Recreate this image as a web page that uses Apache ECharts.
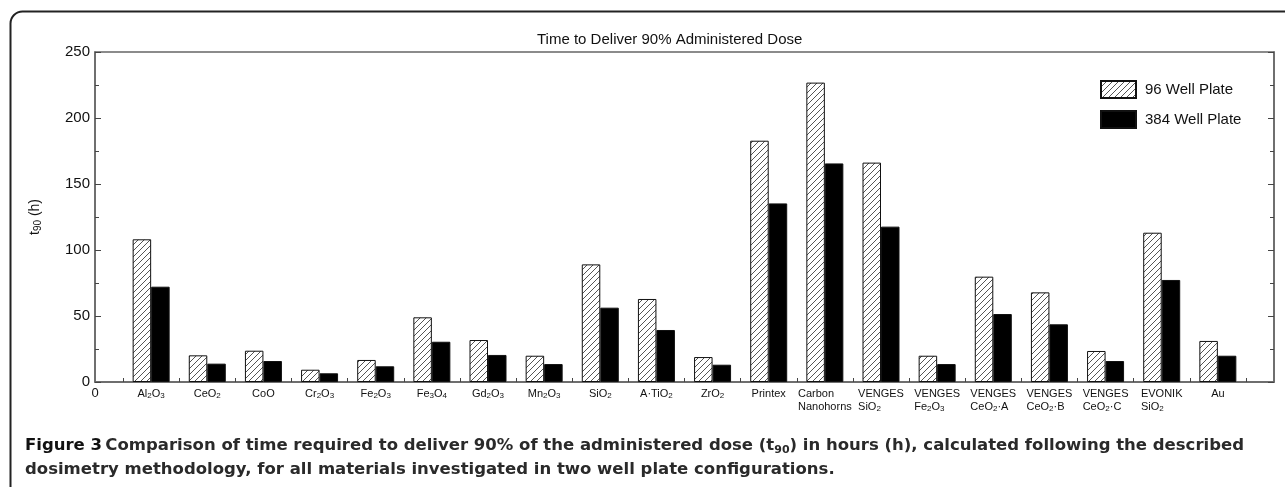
<!DOCTYPE html>
<html><head><meta charset="utf-8">
<script src="https://cdn.jsdelivr.net/npm/echarts@6/dist/echarts.min.js"></script>
<style>html,body{margin:0;padding:0;background:#fff}#c{width:1285px;height:487px}</style>
</head><body><div id="c"></div>
<script>
const categories = ['Al2O3','CeO2','CoO','Cr2O3','Fe2O3','Fe3O4','Gd2O3','Mn2O3','SiO2','A·TiO2','ZrO2','Printex','Carbon Nanohorns','VENGES SiO2','VENGES Fe2O3','VENGES CeO2·A','VENGES CeO2·B','VENGES CeO2·C','EVONIK SiO2','Au'];
const tickLabels = [
  '{n|Al}{s|2}{n|O}{s|3}', '{n|CeO}{s|2}', '{n|CoO}', '{n|Cr}{s|2}{n|O}{s|3}', '{n|Fe}{s|2}{n|O}{s|3}',
  '{n|Fe}{s|3}{n|O}{s|4}', '{n|Gd}{s|2}{n|O}{s|3}', '{n|Mn}{s|2}{n|O}{s|3}', '{n|SiO}{s|2}', '{n|A·TiO}{s|2}',
  '{n|ZrO}{s|2}', '{n|Printex}', '{n|Carbon}\n{n|Nanohorns}', '{n|VENGES}\n{n|SiO}{s|2}', '{n|VENGES}\n{n|Fe}{s|2}{n|O}{s|3}',
  '{n|VENGES}\n{n|CeO}{s|2}{n|·A}', '{n|VENGES}\n{n|CeO}{s|2}{n|·B}', '{n|VENGES}\n{n|CeO}{s|2}{n|·C}', '{n|EVONIK}\n{n|SiO}{s|2}', '{n|Au}'
];
const plate96  = [108.1, 20.2, 23.7, 9.3, 16.7, 49.0, 31.8, 19.9, 89.1, 62.9, 18.9, 182.8, 226.8, 166.2, 19.9, 79.8, 67.9, 23.5, 113.1, 31.1];
const plate384 = [72.2, 13.9, 15.9, 6.6, 11.9, 30.5, 20.5, 13.6, 56.3, 39.4, 13.1, 135.3, 165.6, 117.7, 13.6, 51.5, 43.7, 15.9, 77.3, 19.9];
const seriesNames = ['96 Well Plate', '384 Well Plate'];
const yTicks = [0, 50, 100, 150, 200, 250];

const FF = 'Liberation Sans, Arial, sans-serif';
const CF = 'DejaVu Sans';
const hc = document.createElement('canvas'); hc.width = 6; hc.height = 6;
const g = hc.getContext('2d'); g.strokeStyle = '#555'; g.lineWidth = 1;
g.beginPath(); g.moveTo(0, 6); g.lineTo(6, 0); g.moveTo(-1, 1); g.lineTo(1, -1); g.moveTo(5, 7); g.lineTo(7, 5); g.stroke();

const chart = echarts.init(document.getElementById('c'), null, {renderer: 'canvas'});
const richX = {
  n: {fontSize: 11, lineHeight: 13, align: 'left', color: '#111', fontFamily: FF},
  s: {fontSize: 8, lineHeight: 5, verticalAlign: 'bottom', align: 'left', color: '#111', fontFamily: FF},
  z: {fontSize: 13, lineHeight: 13, color: '#111', fontFamily: FF}
};
const yAxisBase = {
  type: 'value', min: yTicks[0], max: yTicks[yTicks.length - 1], interval: yTicks[1] - yTicks[0],
  axisLine: {show: true, lineStyle: {color: '#666', width: 1.5}},
  axisTick: {show: true, inside: true, length: 6, lineStyle: {color: '#444'}},
  minorTick: {show: true, splitNumber: 2, length: 4, lineStyle: {color: '#444'}},
  splitLine: {show: false}
};
chart.setOption({
  animation: false,
  backgroundColor: '#fff',
  title: {text: 'Time to Deliver 90% Administered Dose', left: 532, top: 27,
    textStyle: {fontSize: 15, fontWeight: 'normal', color: '#111', fontFamily: FF}},
  legend: {orient: 'vertical', left: 1100, top: 80, itemWidth: 35, itemHeight: 17, itemGap: 11, padding: 0,
    icon: 'rect',
    textStyle: {fontSize: 15, color: '#111', fontFamily: FF, padding: [0, 0, 0, 4]}, data: seriesNames},
  grid: {left: 95, right: 11, top: 52, bottom: 105, show: true, borderColor: '#666', borderWidth: 1.5},
  xAxis: {type: 'value', min: 0, max: categories.length + 1, interval: 1,
    axisLine: {show: true, lineStyle: {color: '#666', width: 1.5}},
    axisTick: {show: false, inside: true, length: 4},
    minorTick: {show: true, splitNumber: 2, length: 4, lineStyle: {color: '#444'}},
    splitLine: {show: false},
    axisLabel: {margin: 5, rich: richX, formatter: function (v) {
      if (v === 0) return '{z|0}';
      return tickLabels[Math.round(v) - 1] || '';
    }}},
  yAxis: [
    Object.assign({}, yAxisBase, {position: 'left',
      axisLabel: {fontSize: 15, color: '#111', margin: 5, fontFamily: FF},
      name: '{t|t}{s|90}{t| (h)}', nameLocation: 'middle', nameGap: 52,
      nameTextStyle: {rich: {t: {fontSize: 14, color: '#111', fontFamily: FF, lineHeight: 16},
        s: {fontSize: 10, color: '#111', fontFamily: FF, lineHeight: 6, verticalAlign: 'bottom'}}}}),
    Object.assign({}, yAxisBase, {position: 'right', axisLabel: {show: false}})
  ],
  series: [
    {name: seriesNames[0], type: 'bar', barWidth: 18.5, barGap: '0%',
      itemStyle: {color: {image: hc, repeat: 'repeat'}, borderColor: '#111', borderWidth: 1},
      data: plate96.map((v, i) => [i + 1, v])},
    {name: seriesNames[1], type: 'bar', barWidth: 18.5, barGap: '0%',
      itemStyle: {color: '#000', borderColor: '#111', borderWidth: 1},
      data: plate384.map((v, i) => [i + 1, v])}
  ],
  graphic: [
    {type: 'rect', silent: true, z: -10, shape: {x: 10.5, y: 11.5, width: 1300, height: 600, r: 12},
      style: {fill: 'none', stroke: '#222', lineWidth: 2}},
    {type: 'text', silent: true, x: 25, y: 436, style: {
      text: '{b|Figure 3} {m|Comparison of time required to deliver 90% of the administered dose (t}{u|90}{m|) in hours (h), calculated following the described}',
      rich: {b: {fontFamily: CF, fontWeight: 'bold', fontSize: 16.5, fill: '#111', lineHeight: 20},
        m: {fontFamily: CF, fontWeight: 'bold', fontSize: 16.5, fill: '#2a2a2a', lineHeight: 20},
        u: {fontFamily: CF, fontWeight: 'bold', fontSize: 11, fill: '#2a2a2a', lineHeight: 8, verticalAlign: 'bottom'}}}},
    {type: 'text', silent: true, x: 25, y: 461, style: {
      text: 'dosimetry methodology, for all materials investigated in two well plate configurations.',
      fontFamily: CF, fontWeight: 'bold', fontSize: 16.5, fill: '#2a2a2a'}}
  ]
});
</script></body></html>
